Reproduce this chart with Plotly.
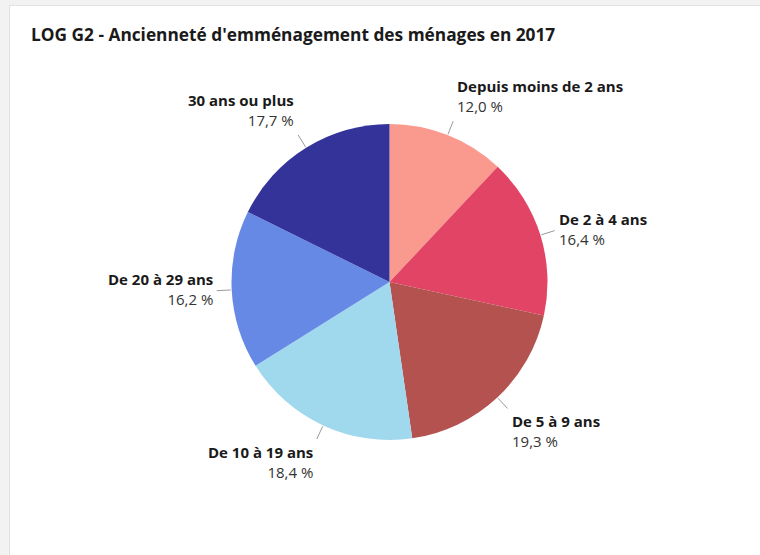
import math
import plotly.graph_objects as go

# ---- data ----
categories = ["Depuis moins de 2 ans", "De 2 à 4 ans", "De 5 à 9 ans",
              "De 10 à 19 ans", "De 20 à 29 ans", "30 ans ou plus"]
shares = [12.0, 16.4, 19.3, 18.4, 16.2, 17.7]
colors = ["#fa998e", "#e24466", "#b45250", "#a0d8ee", "#6789e6", "#333399"]
title_text = "LOG G2 - Ancienneté d'emménagement des ménages en 2017"

W, H = 760, 555
# pie geometry (pixels)
CX, CY, R = 389.5, 282.0, 158.0

def px(x):
    return x / W

def py(y):
    return 1 - y / H

fig = go.Figure(go.Pie(
    labels=categories,
    values=shares,
    marker=dict(colors=colors, line=dict(color="#ffffff", width=0)),
    sort=False,
    direction="clockwise",
    rotation=0,
    textinfo="none",
    hoverinfo="label+percent",
    showlegend=False,
    domain=dict(x=[px(CX - R), px(CX + R)], y=[py(CY + R), py(CY - R)]),
))

# data labels with connectors, positioned from the slice mid-angles
total = sum(shares)
cum = 0.0
shapes = []
annotations = []
for name, v in zip(categories, shares):
    mid = (cum + v / 2) / total * 2 * math.pi
    cum += v
    s, c = math.sin(mid), math.cos(mid)
    x0, y0 = CX + (R + 1) * s, CY - (R + 1) * c
    x1, y1 = CX + (R + 15) * s, CY - (R + 15) * c
    shapes.append(dict(type="line", xref="paper", yref="paper",
                       x0=px(x0), y0=py(y0), x1=px(x1), y1=py(y1),
                       line=dict(color="#9a9a9a", width=1)))
    right = s > 0
    if c > 0.5:
        yanchor, yshift = "bottom", 3
    elif c < -0.5:
        yanchor, yshift = "top", -1
    else:
        yanchor, yshift = "middle", 2
    val = f"{v:.1f}".replace(".", ",") + " %"
    annotations.append(dict(
        xref="paper", yref="paper", x=px(x1), y=py(y1),
        xanchor="left" if right else "right", yanchor=yanchor,
        xshift=2 if right else -2, yshift=yshift,
        align="left" if right else "right",
        showarrow=False,
        text=f"<b>{name}</b><br><span style='color:#333333'>{val}</span>",
        font=dict(family="Open Sans", size=15, color="#1a1a1a"),
    ))

# page frame
shapes = [
    dict(type="rect", xref="paper", yref="paper", x0=0, x1=px(9), y0=0, y1=1,
         fillcolor="#f2f2f2", line=dict(width=0), layer="below"),
    dict(type="rect", xref="paper", yref="paper", x0=0, x1=1, y0=py(5), y1=1,
         fillcolor="#f2f2f2", line=dict(width=0), layer="below"),
    dict(type="line", xref="paper", yref="paper", x0=px(9.5), x1=px(9.5), y0=0, y1=py(5),
         line=dict(color="#e2e2e2", width=1), layer="below"),
    dict(type="line", xref="paper", yref="paper", x0=px(9.5), x1=1, y0=py(5.5), y1=py(5.5),
         line=dict(color="#e2e2e2", width=1), layer="below"),
] + shapes

fig.update_layout(
    width=W, height=H,
    margin=dict(l=0, r=0, t=0, b=0),
    paper_bgcolor="#ffffff",
    plot_bgcolor="#ffffff",
    title=dict(text=f"<b>{title_text}</b>", x=px(31), xanchor="left",
               y=py(35), yanchor="middle",
               font=dict(family="Open Sans", size=17.3, color="#1a1a1a")),
    shapes=shapes,
    annotations=annotations,
)

fig.write_html(
    "out.html",
    config={"displayModeBar": False},
    post_script="document.body.style.margin='0';document.body.style.overflow='hidden';",
)
